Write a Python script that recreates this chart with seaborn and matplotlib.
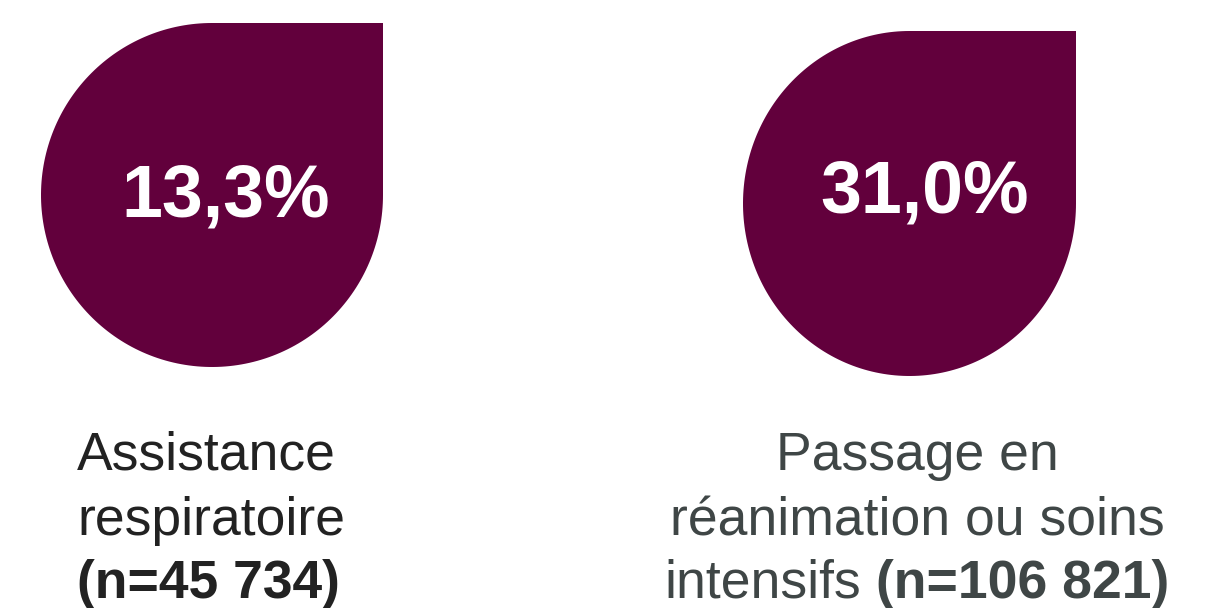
import numpy as np
import matplotlib
matplotlib.use("Agg")
import matplotlib.pyplot as plt
import seaborn as sns

# ---- data ----
categories = ["Assistance respiratoire", "Passage en réanimation ou soins intensifs"]
percentages = [13.3, 31.0]
n_values = [45734, 106821]
label_lines_left = ["Assistance", "respiratoire"]
label_lines_right = ["Passage en", "réanimation ou soins", "intensifs"]

# ---- style ----
sns.set_theme(style="white")
plt.rcParams["font.family"] = ["Liberation Sans", "DejaVu Sans"]

MAROON = "#62003C"
LEFT_TXT = "#222222"
RIGHT_TXT = "#3F4646"

W, H = 1213, 608
fig = plt.figure(figsize=(W / 100, H / 100), dpi=100)
ax = fig.add_axes([0, 0, 1, 1])
ax.set_xlim(0, W)
ax.set_ylim(H, 0)
ax.axis("off")


def drop(ax, cx, cy, rx, ry, color):
    # circle/ellipse with top-right quadrant squared off
    t = np.linspace(np.pi / 2, 2 * np.pi, 200)
    xs = cx + rx * np.cos(t)
    ys = cy - ry * np.sin(t)  # y axis inverted (pixel coords)
    xs = np.concatenate([xs, [cx + rx, cx]])
    ys = np.concatenate([ys, [cy - ry, cy - ry]])
    ax.fill(xs, ys, color=color, lw=0, antialiased=True)


def fmt_pct(v):
    return f"{v:.1f}".replace(".", ",") + "%"


def fmt_n(n):
    return "(n=" + f"{n:,}".replace(",", " ") + ")"


shapes = [(212, 195, 171, 172), (909.5, 203.5, 166.5, 172.5)]
pct_pos = [(226, 217), (925, 213)]

for (cx, cy, rx, ry), (px, py), v in zip(shapes, pct_pos, percentages):
    drop(ax, cx, cy, rx, ry, MAROON)
    ax.text(px, py, fmt_pct(v), ha="center", va="baseline", color="white",
            fontsize=53, fontweight="bold")

FS = 38.5
baselines = [470, 535, 598]

# left label (left-aligned)
for y, line in zip(baselines, label_lines_left):
    ax.text(77, y, line, ha="left", va="baseline", color=LEFT_TXT, fontsize=FS)
ax.text(77, baselines[2], fmt_n(n_values[0]), ha="left", va="baseline",
        color=LEFT_TXT, fontsize=FS, fontweight="bold")

# right label (centered)
cxr = 917
for y, line in zip(baselines[:2], label_lines_right[:2]):
    ax.text(cxr, y, line, ha="center", va="baseline", color=RIGHT_TXT, fontsize=FS)

renderer = fig.canvas.get_renderer()
t1 = ax.text(0, baselines[2], label_lines_right[2], ha="left", va="baseline",
             color=RIGHT_TXT, fontsize=FS)
t2 = ax.text(0, baselines[2], fmt_n(n_values[1]), ha="left", va="baseline",
             color=RIGHT_TXT, fontsize=FS, fontweight="bold")
w1 = t1.get_window_extent(renderer).width
w2 = t2.get_window_extent(renderer).width
gap = 0.278 * FS * 100 / 72
total = w1 + gap + w2
x0 = cxr - total / 2
t1.set_x(x0)
t2.set_x(x0 + w1 + gap)

fig.savefig("out.png", dpi=100, facecolor="white")
